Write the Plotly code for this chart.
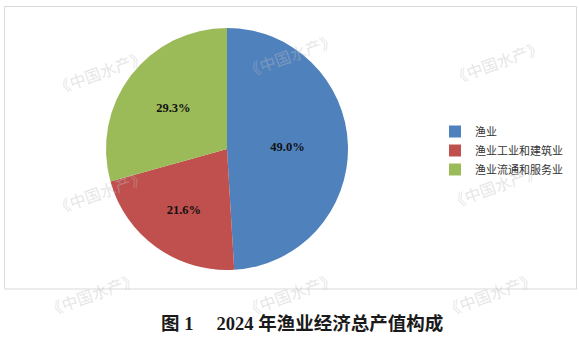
import plotly.graph_objects as go

categories = ["渔业", "渔业工业和建筑业", "渔业流通和服务业"]
values = [49.0, 21.6, 29.3]
labels_text = ["49.0%", "21.6%", "29.3%"]
colors = ["#4F81BD", "#C0504D", "#9BBB59"]
title_text = "图 1\u3000 2024 年渔业经济总产值构成"
watermark = "《中国水产》"

W, H = 579, 342
cx, cy, r = 227, 149, 121

fig = go.Figure(go.Pie(
    labels=categories,
    values=values,
    text=labels_text,
    textinfo="text",
    textposition="inside",
    insidetextorientation="horizontal",
    textfont=dict(family="Liberation Serif", size=12.5, color="#111111", weight="bold"),
    marker=dict(colors=colors, line=dict(width=0)),
    sort=False,
    direction="clockwise",
    rotation=0,
    hoverinfo="label+percent",
    domain=dict(x=[(cx - r) / W, (cx + r) / W], y=[(H - cy - r) / H, (H - cy + r) / H]),
))

# watermarks
wm_pos = [(100, 72), (290, 55), (497, 62), (100, 192), (495, 186), (92, 294), (290, 294), (490, 294)]
annotations = []
for (x, y) in wm_pos:
    annotations.append(dict(
        x=x / W, y=(H - y) / H, xref="paper", yref="paper", text=watermark,
        showarrow=False, textangle=-20, xanchor="center", yanchor="middle",
        font=dict(family="Noto Sans CJK SC", size=16, color="rgba(190,190,190,0.4)"),
    ))

annotations.append(dict(
    x=302 / W, y=(H - 323) / H, xref="paper", yref="paper", text="<b>" + title_text + "</b>",
    showarrow=False, xanchor="center", yanchor="middle",
    font=dict(family="Liberation Serif, Noto Sans CJK SC", size=18.5, color="#1a1a1a"),
))

fig.update_layout(
    width=W, height=H,
    margin=dict(l=0, r=0, t=0, b=0),
    paper_bgcolor="white",
    plot_bgcolor="white",
    showlegend=True,
    legend=dict(
        x=435 / W, y=(H - 117) / H, xanchor="left", yanchor="top",
        font=dict(family="Noto Sans CJK SC", size=11, color="#333333"),
        bgcolor="rgba(0,0,0,0)",
        itemclick=False,
    ),
    shapes=[dict(
        type="rect", xref="paper", yref="paper",
        x0=4.5 / W, x1=576.5 / W, y0=(H - 289) / H, y1=(H - 6.5) / H,
        line=dict(color="#d9d9d9", width=1), fillcolor="rgba(0,0,0,0)", layer="below",
    )],
    annotations=annotations,
)

fig.write_html("out.html")
